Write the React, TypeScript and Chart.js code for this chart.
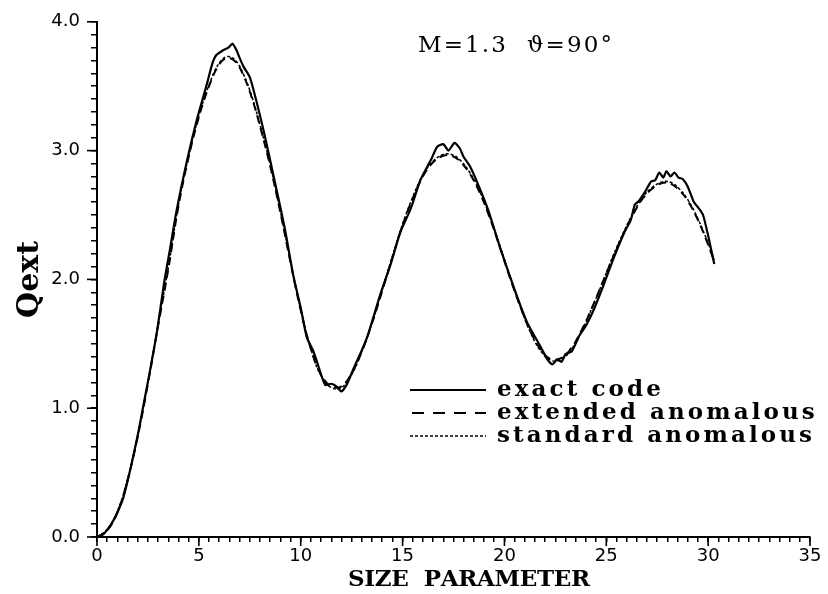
import React, { useEffect, useRef } from "react";
import { Chart, registerables } from "chart.js";

Chart.register(...registerables);

// ---- data ----
const seriesNames = ["exact code", "extended anomalous", "standard anomalous"];

const exactX = [0, 0.3, 0.7, 1.0, 1.3, 1.6, 2.0, 2.3, 2.6, 2.95, 3.3, 3.6, 3.9, 4.4, 4.9, 5.4, 5.65, 5.85, 6.2, 6.45, 6.65, 6.85, 7.0, 7.2, 7.5, 7.8, 8.2, 8.7, 9.2, 9.65, 10.0, 10.3, 10.6, 10.8, 11.2, 11.5, 11.75, 12.0, 12.25, 12.6, 13.0, 13.3, 13.9, 14.4, 14.9, 15.4, 15.9, 16.4, 16.7, 17.0, 17.25, 17.55, 17.8, 18.0, 18.3, 18.7, 19.2, 19.8, 20.5, 21.1, 21.8, 22.1, 22.35, 22.6, 22.8, 23.0, 23.3, 23.7, 24.0, 24.4, 24.9, 25.4, 25.9, 26.2, 26.4, 26.6, 26.9, 27.2, 27.4, 27.6, 27.8, 27.95, 28.15, 28.35, 28.55, 28.75, 29.0, 29.3, 29.55, 29.75, 30.0, 30.3];
const exactY = [0, 0.02, 0.10, 0.19, 0.31, 0.50, 0.79, 1.04, 1.29, 1.60, 1.98, 2.25, 2.53, 2.91, 3.24, 3.52, 3.67, 3.74, 3.78, 3.80, 3.83, 3.78, 3.72, 3.65, 3.57, 3.40, 3.14, 2.78, 2.41, 2.02, 1.78, 1.55, 1.45, 1.36, 1.18, 1.19, 1.17, 1.13, 1.18, 1.31, 1.45, 1.57, 1.88, 2.11, 2.37, 2.55, 2.78, 2.93, 3.03, 3.05, 3.00, 3.06, 3.02, 2.95, 2.88, 2.74, 2.54, 2.24, 1.92, 1.67, 1.47, 1.38, 1.34, 1.38, 1.36, 1.42, 1.44, 1.57, 1.64, 1.77, 1.97, 2.18, 2.37, 2.46, 2.58, 2.61, 2.68, 2.76, 2.77, 2.83, 2.79, 2.84, 2.80, 2.83, 2.79, 2.78, 2.72, 2.60, 2.55, 2.50, 2.34, 2.12];

const extendedX = [0, 0.5, 1.0, 1.5, 2.0, 2.5, 3.0, 3.5, 4.0, 4.5, 5.0, 5.5, 6.0, 6.4, 6.8, 7.2, 7.6, 8.0, 8.5, 9.0, 9.5, 10.0, 10.5, 11.0, 11.5, 12.0, 12.5, 13.0, 13.5, 14.0, 14.5, 15.0, 15.5, 16.0, 16.5, 17.0, 17.4, 17.8, 18.3, 18.8, 19.3, 19.8, 20.3, 20.8, 21.3, 21.8, 22.3, 22.8, 23.3, 23.8, 24.3, 24.8, 25.3, 25.8, 26.3, 26.8, 27.3, 27.8, 28.2, 28.6, 29.0, 29.5, 30.0, 30.3];
const extendedY = [0, 0.05, 0.19, 0.44, 0.78, 1.19, 1.64, 2.08, 2.57, 2.95, 3.26, 3.50, 3.67, 3.72, 3.69, 3.58, 3.41, 3.19, 2.88, 2.52, 2.13, 1.76, 1.46, 1.26, 1.17, 1.17, 1.27, 1.44, 1.66, 1.91, 2.17, 2.42, 2.63, 2.80, 2.91, 2.96, 2.96, 2.92, 2.82, 2.67, 2.47, 2.24, 2.00, 1.78, 1.59, 1.45, 1.38, 1.39, 1.47, 1.61, 1.78, 1.97, 2.16, 2.34, 2.50, 2.63, 2.71, 2.75, 2.74, 2.69, 2.61, 2.46, 2.27, 2.14];

const standardX = [0, 0.5, 1.0, 1.5, 2.0, 2.5, 3.0, 3.5, 4.0, 4.5, 5.0, 5.5, 6.0, 6.4, 6.8, 7.2, 7.6, 8.0, 8.5, 9.0, 9.5, 10.0, 10.5, 11.0, 11.5, 12.0, 12.5, 13.0, 13.5, 14.0, 14.5, 15.0, 15.5, 16.0, 16.5, 17.0, 17.4, 17.8, 18.3, 18.8, 19.3, 19.8, 20.3, 20.8, 21.3, 21.8, 22.3, 22.8, 23.3, 23.8, 24.3, 24.8, 25.3, 25.8, 26.3, 26.8, 27.3, 27.8, 28.2, 28.6, 29.0, 29.5, 30.0, 30.3];
const standardY = [0, 0.06, 0.20, 0.45, 0.79, 1.20, 1.65, 2.09, 2.58, 2.96, 3.27, 3.51, 3.68, 3.73, 3.70, 3.59, 3.42, 3.20, 2.89, 2.53, 2.14, 1.77, 1.46, 1.25, 1.16, 1.16, 1.26, 1.44, 1.66, 1.92, 2.18, 2.43, 2.64, 2.81, 2.92, 2.97, 2.97, 2.93, 2.83, 2.68, 2.48, 2.25, 2.01, 1.78, 1.58, 1.44, 1.37, 1.38, 1.46, 1.60, 1.78, 1.97, 2.17, 2.35, 2.51, 2.64, 2.72, 2.76, 2.75, 2.70, 2.62, 2.47, 2.28, 2.15];

const xMajorTicks = [0, 5, 10, 15, 20, 25, 30, 35];
const yMajorTicks = [0, 1, 2, 3, 4];
const annotationText = "M=1.3  \u03D1=90\u00B0";
const xTitle = "SIZE  PARAMETER";
const yTitle = "Qext";

function toPoints(xs: number[], ys: number[]) {
  return xs.map((x, i) => ({ x, y: ys[i] }));
}

function drawFitted(ctx: CanvasRenderingContext2D, text: string, x: number, y: number, width: number, align: string) {
  const chars = Array.from(text);
  const widths = chars.map((c) => ctx.measureText(c).width);
  const sum = widths.reduce((a, b) => a + b, 0);
  const spacing = chars.length > 1 ? (width - sum) / (chars.length - 1) : 0;
  let cx = align === "center" ? x - width / 2 : align === "right" ? x - width : x;
  ctx.textAlign = "left";
  chars.forEach((c, i) => {
    ctx.fillText(c, cx, y);
    cx += widths[i] + spacing;
  });
}

function drawSpaced(ctx: CanvasRenderingContext2D, text: string, x: number, y: number, spacing: number) {
  const chars = Array.from(text);
  let cx = x;
  ctx.textAlign = "left";
  chars.forEach((c) => {
    ctx.fillText(c, cx, y);
    cx += ctx.measureText(c).width + spacing;
  });
}

const decorPlugin = {
  id: "decor",
  afterDraw(chart: any) {
    const { ctx, chartArea, scales } = chart;
    const xs = scales.x;
    const ys = scales.y;
    ctx.save();
    ctx.strokeStyle = "#000";
    ctx.fillStyle = "#000";
    ctx.lineWidth = 1.6;
    // longer major ticks
    xMajorTicks.forEach((v) => {
      const px = xs.getPixelForValue(v);
      ctx.beginPath();
      ctx.moveTo(px, chartArea.bottom);
      ctx.lineTo(px, chartArea.bottom + 9);
      ctx.stroke();
    });
    yMajorTicks.forEach((v) => {
      const py = ys.getPixelForValue(v);
      ctx.beginPath();
      ctx.moveTo(chartArea.left - 10, py);
      ctx.lineTo(chartArea.left, py);
      ctx.stroke();
    });

    // x title
    ctx.textBaseline = "middle";
    ctx.font = 'bold 23px "DejaVu Serif"';
    drawFitted(ctx, xTitle, 469, 580, 242, "center");

    // annotation
    ctx.font = '23px "DejaVu Serif"';
    drawFitted(ctx, annotationText, 418, 46, 194, "left");

    // legend
    ctx.font = 'bold 23px "DejaVu Serif"';
    const rowsY = [390, 413, 436];
    const ds = chart.data.datasets;
    const sumW = Array.from(seriesNames[2]).reduce((a, c) => a + ctx.measureText(c).width, 0);
    const spacing = (315 - sumW) / (seriesNames[2].length - 1);
    ds.forEach((d: any, i: number) => {
      ctx.save();
      ctx.lineWidth = d.borderWidth;
      ctx.setLineDash(i === 1 ? [12, 9] : d.borderDash || []);
      ctx.beginPath();
      ctx.moveTo(i === 1 ? 412 : 410, rowsY[i]);
      ctx.lineTo(486, rowsY[i]);
      ctx.stroke();
      ctx.restore();
      drawSpaced(ctx, d.label, 497, rowsY[i], spacing);
    });
    ctx.restore();
  },
};

export default function App() {
  const canvasRef = useRef<HTMLCanvasElement | null>(null);

  useEffect(() => {
    const canvas = canvasRef.current;
    if (!canvas) return;
    const chart = new Chart(canvas, {
      type: "scatter",
      data: {
        datasets: [
          {
            label: seriesNames[0],
            data: toPoints(exactX, exactY),
            showLine: true,
            borderColor: "#000",
            borderWidth: 2.2,
            pointRadius: 0,
            tension: 0.2,
          },
          {
            label: seriesNames[1],
            data: toPoints(extendedX, extendedY),
            showLine: true,
            borderColor: "#000",
            borderWidth: 2,
            borderDash: [8, 5],
            pointRadius: 0,
            tension: 0.4,
          },
          {
            label: seriesNames[2],
            data: toPoints(standardX, standardY),
            showLine: true,
            borderColor: "#000",
            borderWidth: 1.5,
            borderDash: [3, 2],
            pointRadius: 0,
            tension: 0.4,
          },
        ],
      },
      options: {
        responsive: false,
        animation: false,
        devicePixelRatio: 1,
        layout: { padding: { top: 18, right: 18, left: 0, bottom: 0 } },
        plugins: {
          legend: { display: false },
          tooltip: { enabled: false },
        },
        scales: {
          x: {
            type: "linear",
            min: 0,
            max: 35,
            afterFit: (s: any) => {
              s.height = 57;
            },
            border: { display: true, color: "#000", width: 2 },
            grid: { drawOnChartArea: false, drawTicks: true, tickLength: 5, color: "#000", lineWidth: 1.5 },
            ticks: {
              stepSize: 0.5,
              autoSkip: false,
              maxRotation: 0,
              color: "#000",
              padding: 4,
              font: { family: '"DejaVu Sans"', size: 18 },
              callback: (v: any) => {
                const n = Number(v);
                return Math.abs(n / 5 - Math.round(n / 5)) < 1e-6 ? String(Math.round(n)) : "";
              },
            },
          },
          y: {
            type: "linear",
            min: 0,
            max: 4,
            afterFit: (s: any) => {
              s.width = 97;
            },
            border: { display: true, color: "#000", width: 2 },
            grid: { drawOnChartArea: false, drawTicks: true, tickLength: 6, color: "#000", lineWidth: 1.5 },
            title: {
              display: true,
              text: yTitle,
              color: "#000",
              font: { family: '"DejaVu Serif"', size: 30, weight: "bold" },
              padding: { top: 12, bottom: 0 },
            },
            ticks: {
              stepSize: 0.1,
              autoSkip: false,
              color: "#000",
              padding: 11,
              font: { family: '"DejaVu Sans"', size: 18 },
              callback: (v: any) => {
                const n = Number(v);
                return Math.abs(n - Math.round(n)) < 1e-6 ? Math.round(n).toFixed(1) : "";
              },
            },
          },
        },
      },
      plugins: [decorPlugin],
    } as any);
    return () => chart.destroy();
  }, []);

  return (
    <div style={{ position: "absolute", left: 0, top: 0, width: 828, height: 594, background: "#fff" }}>
      <canvas ref={canvasRef} width={828} height={594} style={{ width: 828, height: 594, display: "block" }} />
    </div>
  );
}
